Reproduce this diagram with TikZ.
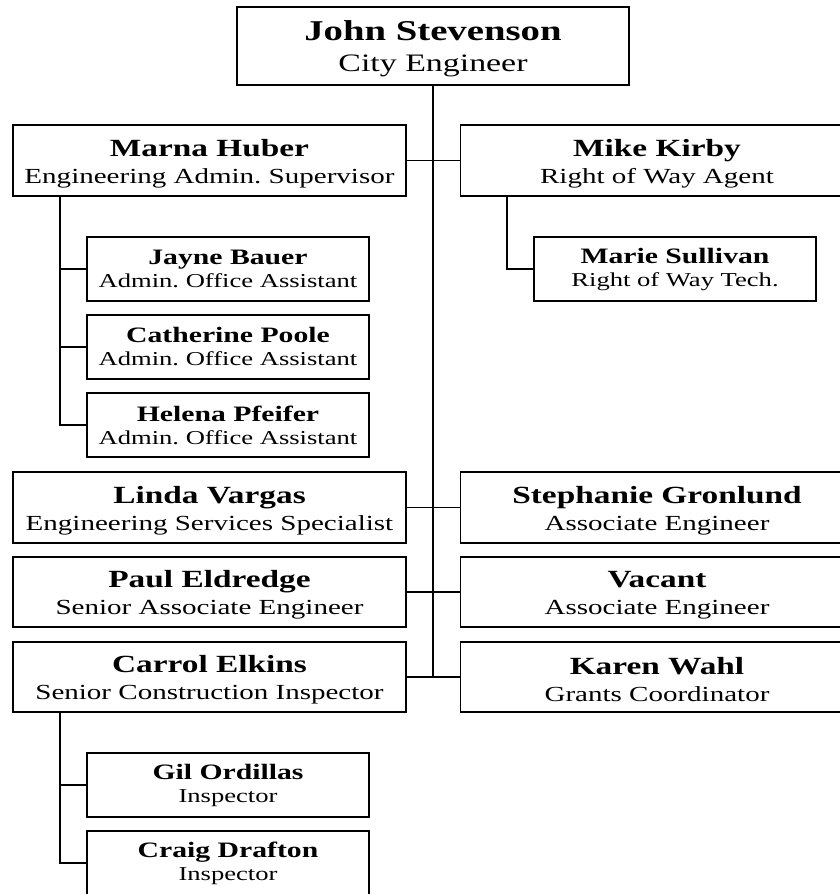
\documentclass[tikz,border=0pt]{standalone}
\usepackage{fontspec}
\setmainfont{Liberation Serif}[FakeStretch=1.35]

\newcommand{\bossname}[1]{{\fontsize{28.7}{31}\selectfont\bfseries\rule{0pt}{26pt}#1}}
\newcommand{\staffname}[1]{{\fontsize{24.7}{27}\selectfont\bfseries\rule{0pt}{23pt}#1}}
\newcommand{\aidename}[1]{{\fontsize{22}{23}\selectfont\bfseries #1}}

\begin{document}
\begin{tikzpicture}[x=1pt,y=-1pt,line width=1.8pt]
    \tikzstyle{box}=[draw=black,fill=white,align=center,inner sep=0pt]
    \tikzstyle{head}=[box,minimum width=392pt,minimum height=78pt,font=\fontsize{25.1}{31}\selectfont]
    \tikzstyle{staff}=[box,minimum width=393pt,minimum height=70.5pt,font=\fontsize{21.5}{27}\selectfont]
    \tikzstyle{aide}=[box,minimum width=282pt,minimum height=64pt,font=\fontsize{19.7}{23}\selectfont]
    \useasboundingbox (0,0) rectangle (840,894);

    % city engineer
    \node[head] (boss) at (433,46) {\bossname{John Stevenson}\\City Engineer};

    % left column
    \node[staff] (marna)  at (209.5,160.5) {\staffname{Marna Huber}\\Engineering Admin.\ Supervisor};
    \node[staff] (linda)  at (209.5,507.5) {\staffname{Linda Vargas}\\Engineering Services Specialist};
    \node[staff] (paul)   at (209.5,592)   {\staffname{Paul Eldredge}\\Senior Associate Engineer};
    \node[staff] (carrol) at (209.5,677)   {\staffname{Carrol Elkins}\\Senior Construction Inspector};

    % right column
    \node[staff] (mike)      at (657,160.5) {\staffname{Mike Kirby}\\Right of Way Agent};
    \node[staff] (stephanie) at (657,507.5) {\staffname{Stephanie Gronlund}\\Associate Engineer};
    \node[staff] (vacant)    at (657,592)   {\staffname{Vacant}\\Associate Engineer};
    \node[staff] (karen)     at (657,677)   {\staffname{Karen Wahl}\\Grants Coordinator};

    % assistants
    \foreach \id/\name/\y in {jayne/Jayne Bauer/269, catherine/Catherine Poole/347, helena/Helena Pfeifer/425}
        \node[aide] (\id) at (228,\y) {\aidename{\name}\\Admin.\ Office Assistant};
    \node[aide] (marie) at (675,269) {\aidename{Marie Sullivan}\\Right of Way Tech.};
    \node[aide] (gil)   at (228,785) {\aidename{Gil Ordillas}\\Inspector};
    \node[aide] (craig) at (228,863) {\aidename{Craig Drafton}\\Inspector};

    % trunk and branches
    \draw (boss.south) -- (boss.south |- carrol.east);
    \foreach \from/\to in {marna/mike, linda/stephanie, paul/vacant, carrol/karen}
        \draw (\from) -- (\to);

    \foreach \to in {jayne, catherine, helena}
        \draw ([xshift=48pt]marna.south west) |- (\to.west);
    \draw ([xshift=47pt]mike.south west) |- (marie.west);
    \foreach \to in {gil, craig}
        \draw ([xshift=48pt]carrol.south west) |- (\to.west);
\end{tikzpicture}
\end{document}
